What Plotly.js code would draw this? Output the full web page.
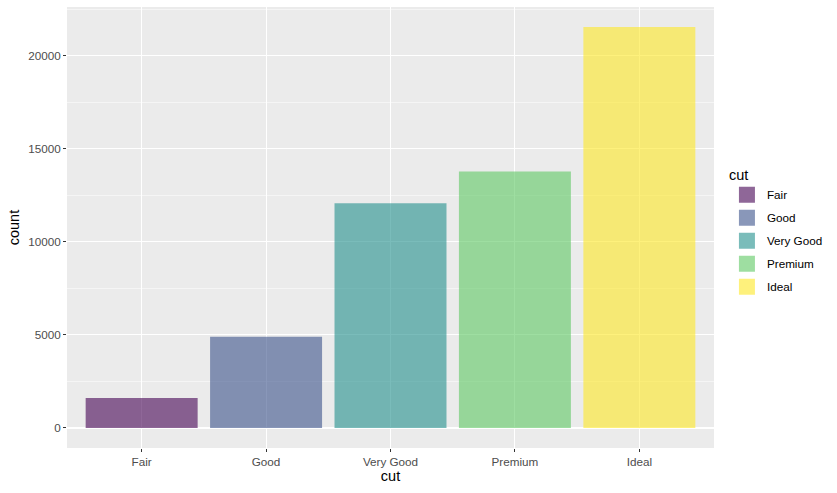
<!DOCTYPE html>
<html><head><meta charset="utf-8">
<script src="https://cdn.plot.ly/plotly-3.0.1.min.js"></script>
<style>body{margin:0;background:#fff}#c{width:837px;height:493px}</style>
</head><body><div id="c"></div>
<script>
const categories = ["Fair", "Good", "Very Good", "Premium", "Ideal"];
const counts = [1610, 4906, 12082, 13791, 21551];
const colors = ["rgba(68,1,84,0.6)", "rgba(59,82,139,0.6)", "rgba(33,144,140,0.6)", "rgba(93,200,99,0.6)", "rgba(253,231,37,0.6)"];
const yTicks = [0, 5000, 10000, 15000, 20000];
const yTickLabels = ["0", "5000", "10000", "15000", "20000"];

const traces = [];
categories.forEach((c, i) => {
  traces.push({type: "bar", x: [c], y: [counts[i]], name: c, width: 0.9,
    marker: {color: colors[i], line: {width: 0}}, showlegend: false});
});
categories.forEach((c, i) => {
  traces.push({type: "scatter", mode: "markers", x: [null], y: [null], name: c, legendgroup: c,
    marker: {symbol: "square", size: 16, color: colors[i], line: {width: 0}}, showlegend: true});
});
const maxV = Math.max(...counts);
const layout = {
  width: 837, height: 493,
  margin: {l: 67, r: 123, t: 7, b: 45},
  paper_bgcolor: "#fff", plot_bgcolor: "#EBEBEB",
  font: {family: "Liberation Sans, Arial, sans-serif", size: 11.7, color: "#4D4D4D"},
  xaxis: {type: "category", categoryarray: categories, range: [-0.6, 4.6],
    showgrid: true, gridcolor: "#fff", gridwidth: 1.1, zeroline: false,
    ticks: "outside", ticklen: 3, tickcolor: "#333", tickwidth: 1,
    tickfont: {size: 11.7, color: "#4D4D4D"},
    title: {text: "cut", font: {size: 14.5, color: "#000"}, standoff: 3}},
  yaxis: {range: [-0.05 * maxV, 1.05 * maxV], tickvals: yTicks, ticktext: yTickLabels,
    showgrid: true, gridcolor: "#fff", gridwidth: 1.1, zeroline: false,
    minor: {dtick: 2500, tick0: 2500, showgrid: true, gridcolor: "#fff", gridwidth: 0.5, ticks: ""},
    ticks: "outside", ticklen: 3, tickcolor: "#333", tickwidth: 1,
    tickfont: {size: 11.7, color: "#4D4D4D"},
    title: {text: "count", font: {size: 14.5, color: "#000"}, standoff: 5}},
  legend: {x: 1.02, y: 0.65, xanchor: "left", yanchor: "top",
    title: {text: "cut", font: {size: 14.5, color: "#000"}},
    font: {size: 11.7, color: "#000"}, tracegroupgap: 4, itemwidth: 30,
    bgcolor: "rgba(0,0,0,0)"},
  showlegend: true
};
Plotly.newPlot("c", traces, layout, {displayModeBar: false, staticPlot: true});
</script></body></html>
